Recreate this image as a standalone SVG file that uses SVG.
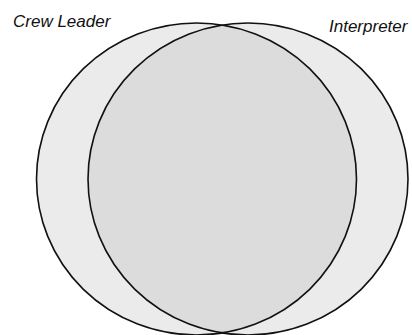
<svg xmlns="http://www.w3.org/2000/svg" width="412" height="335" viewBox="0 0 412 335">
<style>
.set{fill:#ebebeb;stroke:none}
.ov{fill:#dcdcdc;stroke:none}
.edge{fill:none;stroke:#111;stroke-width:1.6}
.lbl{font-family:"Liberation Sans",Arial,sans-serif;font-style:italic;font-size:17px;fill:#111}
</style>
<defs>
<clipPath id="clipL"><ellipse cx="196.5" cy="179" rx="160" ry="156"/></clipPath>
</defs>
<rect width="412" height="335" fill="#fff"/>
<g id="crew-leader">
<ellipse class="set" cx="196.5" cy="179" rx="160" ry="156"/>
</g>
<g id="interpreter">
<ellipse class="set" cx="248" cy="179" rx="160" ry="156"/>
</g>
<g id="overlap">
<ellipse class="ov" cx="248" cy="179" rx="160" ry="156" clip-path="url(#clipL)"/>
</g>
<g id="outlines">
<ellipse class="edge" cx="196.5" cy="179" rx="160" ry="156"/>
<ellipse class="edge" cx="248" cy="179" rx="160" ry="156"/>
</g>
<g id="labels">
<text class="lbl" x="13" y="27">Crew Leader</text>
<text class="lbl" x="329" y="32">Interpreter</text>
</g>
</svg>
